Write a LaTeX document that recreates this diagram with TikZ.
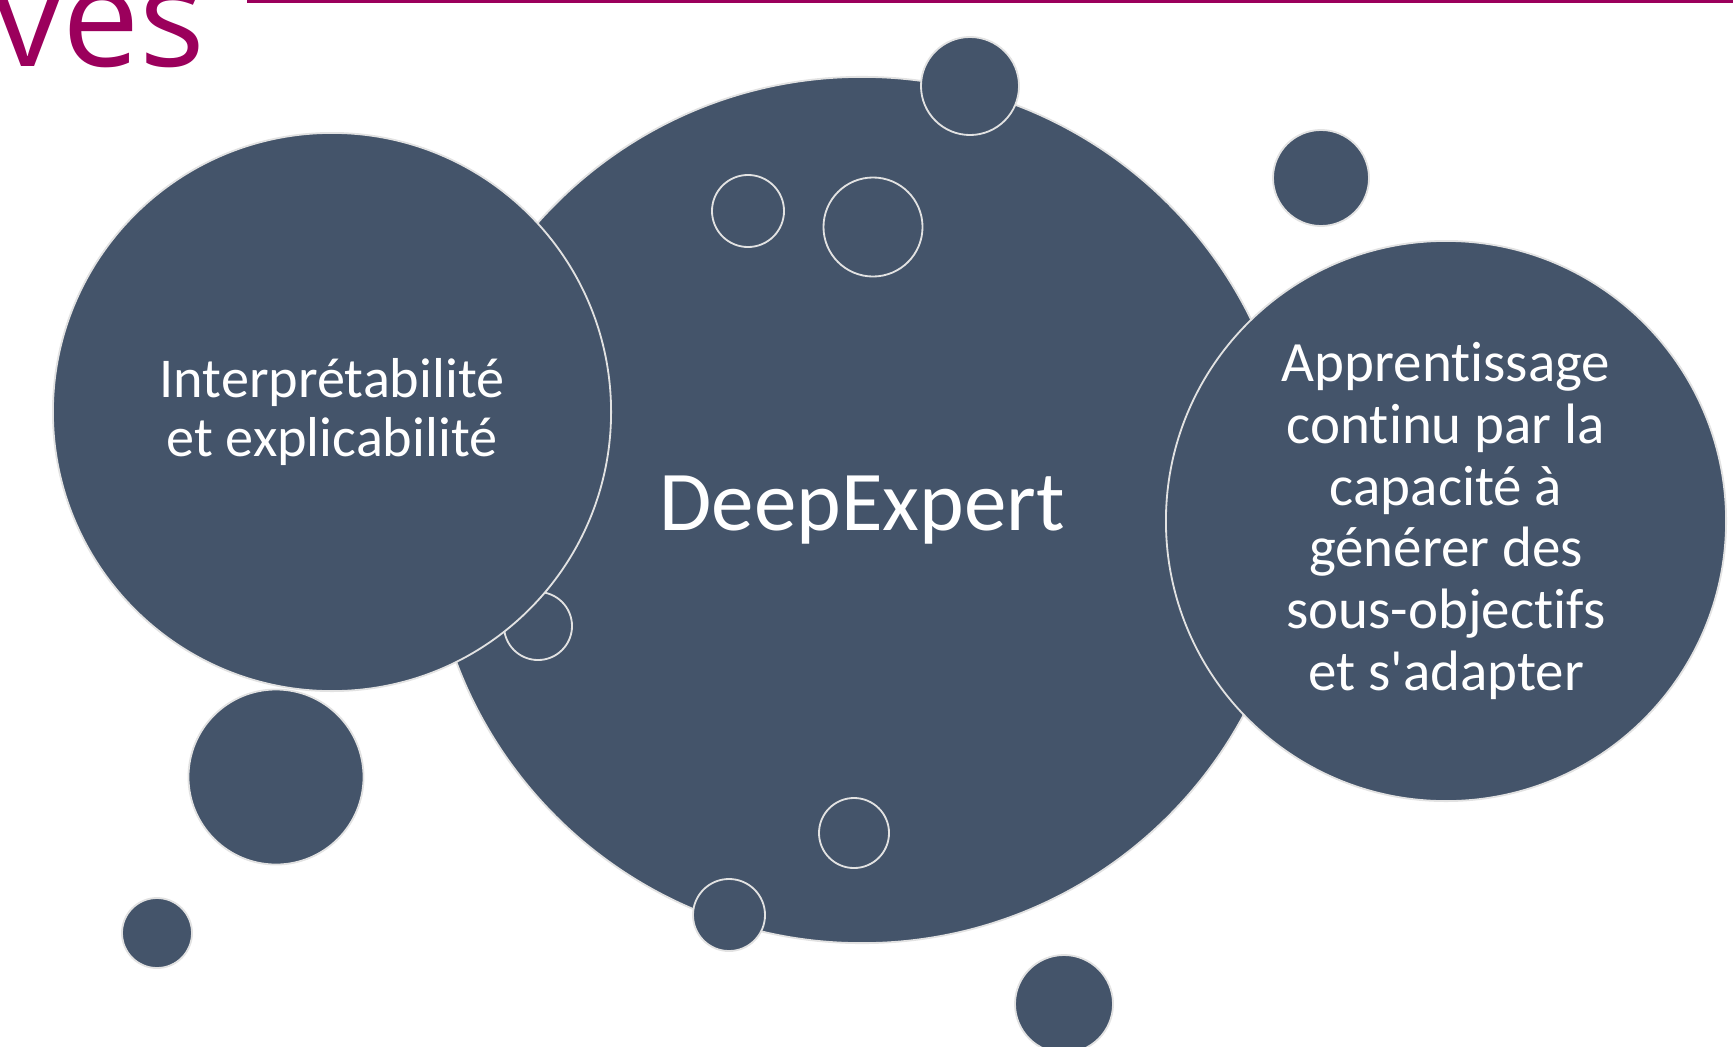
\documentclass[tikz,border=0pt]{standalone}
\usepackage{fontspec}
\setmainfont{Carlito}[Ligatures={NoCommon}]
\newfontfamily\titlefont{Open Sans}
\definecolor{slate}{HTML}{44546A}
\definecolor{rim}{HTML}{E2E2E2}
\definecolor{plum}{HTML}{9B005C}
\begin{document}
\begin{tikzpicture}[x=0.025cm,y=-0.025cm,
  bub/.style={circle, inner sep=0pt, fill=slate, draw=rim, line width=1.3pt,
              minimum size=#1*0.05cm, text=white, align=center},
  ring/.style={circle, inner sep=0pt, draw=rim, line width=1.3pt,
              minimum size=#1*0.05cm}]
\useasboundingbox (0,0) rectangle (1733,1046);
\clip (0,0) rectangle (1733,1046);
% title fragment and rule
\node[anchor=base east, text=plum, inner sep=0pt,
      font=\titlefont\fontsize{98}{100}\selectfont] (title) at (206,66) {ves};
\coordinate (ruleA) at (247,0);
\coordinate (ruleB) at (1733,2.5);
\fill[plum] (ruleA) rectangle (ruleB);
% main bubble
\node[bub=433, font=\fontsize{60.5}{62}\selectfont] (deep) at (862,510) {DeepExpert};
\node[bub=34] (s1) at (538,626) {};
% side bubbles
\node[bub=279, font=\fontsize{40}{42.5}\selectfont] (interp) at (332,412)
  {Interprétabilité\\et explicabilité};
\node[bub=280, font=\fontsize{40.5}{44}\selectfont] (appr) at (1446,521)
  {Apprentissage\\continu par la\\capacité à\\générer des\\sous-objectifs\\et s\textquotesingle adapter};
% outline rings
\node[ring=36] (r1) at (748,211) {};
\node[ring=49.5] (r2) at (873,227) {};
\node[ring=35] (r3) at (854,833) {};
% small bubbles
\node[bub=49] (b1) at (970,86) {};
\node[bub=36] (b2) at (729,915) {};
\node[bub=48] (b3) at (1321,178) {};
\node[bub=49] (b4) at (1064,1004) {};
\node[bub=87.5] (b5) at (276,777) {};
\node[bub=35] (b6) at (157,933) {};
\end{tikzpicture}
\end{document}
